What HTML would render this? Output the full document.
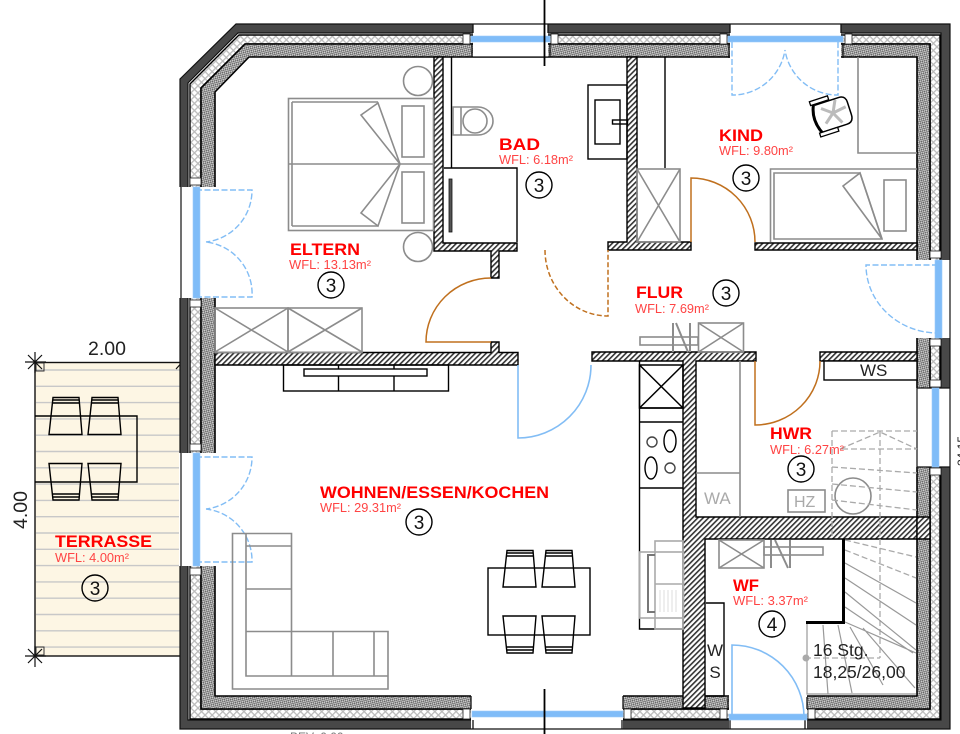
<!DOCTYPE html>
<html><head><meta charset="utf-8"><style>
html,body{margin:0;padding:0;background:#fff}
svg{display:block;filter:blur(0.35px)}
text{font-family:"Liberation Sans",sans-serif}
.r{fill:#f00;font-weight:bold;font-size:16.5px}
.w{fill:#f44;font-size:12.5px}
.n{fill:#111;font-size:19px;text-anchor:middle}
.g{fill:none;stroke:#8c8c8c;stroke-width:1.6}
.b{fill:none;stroke:#000;stroke-width:1.4}
.o{fill:none;stroke:#c0701e;stroke-width:1.5}
.bl{fill:none;stroke:#82bdf5;stroke-width:1.4}
.d{stroke-dasharray:6 2.5}
.sd{fill:none;stroke:#aaa;stroke-width:1.3;stroke-dasharray:6 3}
.st{fill:none;stroke:#999;stroke-width:1.2}
.h{fill:url(#hatch);stroke:#000;stroke-width:1.4}
.win{fill:#7fbcf8;stroke:#9ccbfa;stroke-width:.6}
.sq{fill:#fff;stroke:#222;stroke-width:.8}
</style></head><body>
<svg xmlns="http://www.w3.org/2000/svg" width="960" height="734" viewBox="0 0 960 734">
<defs>
<pattern id="hatch" width="3.8" height="3.8" patternUnits="userSpaceOnUse" patternTransform="rotate(45)"><rect width="3.8" height="3.8" fill="#fff"/><rect width="1.6" height="3.8" fill="#333"/></pattern>
<pattern id="ins" width="5" height="5" patternUnits="userSpaceOnUse" patternTransform="rotate(45)"><rect width="5" height="5" fill="#fff"/><rect width="1.3" height="5" fill="#bbb"/><rect width="5" height="1.3" fill="#bbb"/></pattern>
<pattern id="inner" width="2.8" height="2.8" patternUnits="userSpaceOnUse" patternTransform="rotate(30)"><rect width="2.8" height="2.8" fill="#d0d0d0"/><rect width="1.4" height="1.4" fill="#666"/><rect x="1.4" y="1.4" width="1.4" height="1.4" fill="#666"/></pattern>
</defs>
<rect width="960" height="734" fill="#fff"/>

<!-- terrace -->
<rect x="35" y="362" width="146" height="294" fill="#fdf6e4"/>
<g stroke="#c8c8c8" stroke-width="1.4">
<path d="M36 370H180M36 386.3H180M36 402.6H180M36 418.9H180M36 435.2H180M36 451.5H180M36 467.8H180M36 484.1H180M36 500.4H180M36 516.7H180M36 533H180M36 549.3H180M36 565.6H180M36 581.9H180M36 598.2H180M36 614.5H180M36 630.8H180M36 647.1H180"/>
</g>
<rect x="35" y="362.5" width="146" height="293.5" fill="none" stroke="#111" stroke-width="1.4"/>
<rect x="36" y="363" width="8" height="8" fill="none" stroke="#333" stroke-width="1"/>
<rect x="36" y="647" width="8" height="8" fill="none" stroke="#333" stroke-width="1"/>
<path d="M25 362H46M35 352V373M28 355L42 369M42 355L28 369M25 656H46M35 646V667M28 649L42 663M42 649L28 663M176 369L186 358" stroke="#111" stroke-width="1.2" fill="none"/>
<path class="b" d="M35 416H137V482H35"/>
<g class="b" fill="#fdf6e4">
<path d="M53 397.500H79L82 434.500H49ZM53 400H79M53 403H79M92 397.500H118L121 434.500H88ZM92 400H118M92 403H118"/>
<path d="M49 463.500H82L79 500H53ZM53 497H79M53 494H79M88 463.500H121L118 500H92ZM92 497H118M92 494H118"/>
</g>

<!-- outer wall bands -->
<path fill-rule="evenodd" d="M180 79L236 24H950V729H180ZM188 83L238 33H941V720H188Z" fill="#484848" stroke="#111" stroke-width="1.2"/>
<path fill-rule="evenodd" d="M190 84L239 35H940V719H190ZM201 88L245 44H930V709H201Z" fill="url(#ins)" stroke="#000" stroke-width="1.4"/>
<path fill-rule="evenodd" d="M201 88L245 44H930V709H201ZM215 92L249 57H917V696H215Z" fill="url(#inner)" stroke="#000" stroke-width="1.6"/>

<!-- openings -->
<g fill="#fff">
<rect x="473" y="23" width="75" height="34"/><rect x="730" y="23" width="111" height="35"/>
<rect x="471" y="695" width="152" height="35"/><rect x="729" y="695" width="78" height="35"/>
<rect x="179" y="187" width="37" height="111"/><rect x="179" y="453" width="37" height="113"/>
<rect x="916" y="260" width="35" height="78"/><rect x="916" y="388" width="35" height="79"/>
</g>
<path d="M473 24H548M473 57H550M472 44V57M550 44V57M473 24V33M548 24V33M730 24H841M730 24V33M841 24V33M729 44V58M843 44V58" stroke="#111" stroke-width="1.3" fill="none"/>
<path d="M471 729H623M473 720V729M622 720V729M471 696V709M623 696V709M729 729H807M730 720V729M805 720V729M728 697V709M807 697V709" stroke="#111" stroke-width="1.3" fill="none"/>
<path d="M181 187V298M181 453V566M950 260V338M917 388V467M950 388V467M917 388H950M917 467H950" stroke="#111" stroke-width="1.2" fill="none"/>
<!-- small squares -->
<g class="sq">
<rect x="463" y="34" width="7" height="10"/><rect x="551" y="34" width="7" height="10"/><rect x="720" y="34" width="7" height="10"/><rect x="845" y="34" width="7" height="10"/>
<rect x="463" y="709" width="7" height="10"/><rect x="624" y="709" width="7" height="10"/><rect x="720" y="709" width="7" height="10"/><rect x="808" y="709" width="7" height="10"/>
<rect x="190" y="178" width="11" height="7"/><rect x="190" y="300" width="11" height="7"/><rect x="190" y="444" width="11" height="7"/><rect x="190" y="568" width="11" height="7"/>
<rect x="930" y="251" width="11" height="7"/><rect x="930" y="339" width="11" height="7"/><rect x="930" y="380" width="11" height="7"/><rect x="930" y="468" width="11" height="7"/>
</g>
<!-- windows -->
<g class="win">
<rect x="471" y="36" width="79" height="6"/><rect x="728" y="36" width="115" height="6"/>
<rect x="472" y="711" width="151" height="6"/><rect x="729" y="714" width="78" height="6"/>
<rect x="193" y="187" width="7" height="111"/><rect x="193" y="453" width="7" height="113"/>
<rect x="935" y="260" width="7" height="78"/><rect x="932" y="388" width="7" height="79"/>
</g>

<!-- hatched walls -->
<path class="h" d="M434 57H443V243H517V251H499V278H491V251H434Z"/>
<path class="h" d="M627 57H637V242H691V250H608V242H627Z"/>
<path class="h" d="M755 243H917V250H755Z"/>
<path class="h" d="M215 352.500H491V342H499V352.500H518V365H215Z"/>
<path class="h" d="M592 352H756V361H696V517H917V539H705V708H683V361H592Z"/>
<path class="h" d="M820 352H917V361H820Z"/>
<path class="h" d="M917 517H930V539H917Z"/>

<!-- section cut -->
<path d="M544.500 0V66M544.500 689V734" stroke="#000" stroke-width="1.8"/>

<!-- doors -->
<path class="o" d="M491 278A65 64 0 0 0 426 342H491"/>
<path class="o" d="M545 250A63 66 0 0 0 608 316V250" stroke-dasharray="5 2.5"/>
<path class="o" d="M755 242A64 64 0 0 0 691 178V242"/>
<path class="o" d="M755 361V425A65 64 0 0 0 820 361"/>
<path class="bl" style="stroke-width:1.6" d="M518 365V438A73 73 0 0 0 591 365"/>
<path class="bl" style="stroke-width:1.6" d="M732 717V645A72 72 0 0 1 804 717"/>
<g class="bl d">
<path d="M196 190H252A52 52 0 0 1 206 242M196 297H252A52 52 0 0 0 206 242"/>
<path d="M196 457H252A52 52 0 0 1 206 509M196 562H252A52 52 0 0 0 206 509"/>
<path d="M732 42V95A53 53 0 0 0 785 50M838 42V95A53 53 0 0 1 785 50"/>
<path d="M938 265H866A72 68 0 0 0 938 333"/>
</g>

<!-- Eltern furniture -->
<g class="g">
<rect x="288.500" y="98.500" width="145" height="132"/>
<path d="M292 102H378M292 226H378M292 102V226M288 164H434"/>
<path d="M361 115L378 103L400 164ZM361 213L378 226L400 164Z"/>
<rect x="402" y="106" width="22" height="51"/><rect x="402" y="172" width="22" height="51"/>
<circle cx="418" cy="81" r="14.500"/><circle cx="418" cy="247" r="14.500"/>
<rect x="215" y="308" width="73" height="44.500"/><rect x="288" y="308" width="74" height="44.500"/>
<path d="M215 308L288 352M288 308L215 352M288 308L362 352M362 308L288 352"/>
</g>
<g class="b">
<rect x="283.500" y="365" width="165" height="26"/>
<path d="M338.500 365V391M394 365V391"/>
<rect x="304" y="369" width="123" height="7" fill="#fff"/>
</g>

<!-- Bad -->
<path class="b" d="M451.500 57V168M444 168H517V242M665 57V168"/>
<rect x="449" y="179" width="3" height="53" fill="#555" stroke="#111" stroke-width=".8"/>
<g class="g">
<path d="M453 107H478A15 14 0 0 1 478 135H453Z"/><path d="M461 107V135"/>
<ellipse cx="475" cy="121" rx="12" ry="12"/>
</g>
<g class="b"><rect x="588" y="85" width="39" height="74"/><rect x="595" y="100" width="25" height="44"/><rect x="612.500" y="120" width="15" height="4"/></g>
<g class="g"><rect x="637" y="169" width="43" height="73"/><path d="M637 169L680 242M680 169L637 242"/></g>

<!-- Kind -->
<g class="g">
<path d="M858 57V153H917"/>
<path d="M917 169H770.500V242"/>
<path d="M774 173H860L882 239H774Z"/>
<path d="M843 186L860 173L882 239Z"/>
<rect x="884" y="180" width="22" height="51"/>
</g>
<g transform="translate(833 113) rotate(-18)">
<g stroke="#bbb" stroke-width="3"><path d="M0 0L14 -2M0 0L6 12M0 0L6 -12M0 0L-10 8M0 0L-10 -8"/></g>
<path d="M-15 -13H10Q17 -13 17 -6V7Q17 15 10 15H-15" fill="none" stroke="#000" stroke-width="1.5"/>
<path d="M-16 -14Q-23 0 -16 16" fill="none" stroke="#000" stroke-width="3"/>
<path d="M-19 -18H0V-14H-19ZM-19 15H0V19H-19Z" fill="#fff" stroke="#000" stroke-width="1.3"/>
</g>

<!-- Flur wardrobe -->
<g class="g">
<rect x="698.500" y="323" width="45" height="29"/><path d="M698.500 323L743.500 352M743.500 323L698.500 352"/>
<rect x="640" y="337" width="58" height="8"/>
<path style="stroke-width:2" d="M673 323V352M676 323L688 352M690 323V352"/>
</g>

<!-- Kitchen -->
<g class="b">
<path d="M639.500 361V629H683M639.500 408H683M639.500 422H683M639.500 488H683"/>
<path d="M639.500 365H683V408H639.500ZM639.500 365L683 408M683 365L639.500 408" stroke-width="1.5"/>
<circle cx="652" cy="442" r="5" stroke="#444"/><ellipse cx="670" cy="441" rx="6" ry="11"/>
<ellipse cx="651" cy="468" rx="6" ry="11"/><circle cx="670" cy="468" r="5" stroke="#444"/>
</g>
<g fill="none" stroke="#aaa" stroke-width="1.6">
<rect x="655" y="541" width="28" height="88"/><rect x="639.500" y="552" width="44" height="66"/>
<path d="M655 584H683"/>
<path stroke="#777" stroke-width="2" d="M655 555H648V612H655"/>
<path stroke="#ddd" stroke-width="1" d="M660 590V612M664 590V612M668 590V612M672 590V612M676 590V612"/>
</g>

<!-- HWR -->
<g class="g"><path d="M696 473H740M740 361V517"/><rect x="788" y="490" width="37" height="22"/><circle cx="853" cy="496" r="18"/></g>
<rect x="824" y="361" width="93" height="19" fill="#fff" stroke="#000" stroke-width="1.4"/>
<text x="860" y="376" font-size="17" fill="#222">WS</text>
<text x="704" y="504" font-size="17" fill="#aaa">WA</text>
<text x="794" y="507" font-size="16" fill="#aaa">HZ</text>

<!-- stairs -->
<g class="sd">
<path d="M832 431H917M832 431V539M880 431V658M805 658H880M842 449H917M840 449L880 432L917 449M832 467L917 473M832 484L917 492M832 500L917 510M845 540L916 557M845 550L916 578"/>
</g>
<path class="st" d="M845 563L916 603M845 578L916 625M845 592L916 650M845 607L913 653M845 622L916 653M807 622V694H916M823 625L828 694M838 625L852 693M850 627L883 685M863 628L915 688"/>
<circle cx="806" cy="658" r="3.500" fill="#aaa"/>

<!-- WF -->
<path d="M843.500 539V622.500H806" fill="none" stroke="#000" stroke-width="3"/>
<g class="g">
<rect x="719" y="540" width="45" height="28"/><path d="M719 540L764 568M764 540L719 568"/>
<rect x="764" y="547" width="59" height="8"/>
<path style="stroke-width:2" d="M771 540V568M775 540L788 568M790 540V568"/>
</g>
<path class="b" d="M706 603H724V696"/>
<path class="b" d="M706 696H724"/>
<text x="715" y="656" font-size="17" fill="#222" text-anchor="middle">W</text>
<text x="715" y="678" font-size="17" fill="#222" text-anchor="middle">S</text>
<text x="813" y="656" font-size="17.500" fill="#222">16 Stg.</text>
<text x="813" y="678" font-size="17.500" fill="#222">18,25/26,00</text>

<!-- dining -->
<rect x="488" y="568" width="102" height="67" class="b"/>
<g class="b" fill="#fff">
<path d="M507 550.500H533L536 587H503ZM507 553H533M507 556H533M546 550.500H572L575 587H542ZM546 553H572M546 556H572"/>
<path d="M503 616H536L533 653H507ZM507 650H533M507 647H533M542 616H575L572 653H546ZM546 650H572M546 647H572"/>
</g>

<!-- sofa -->
<g class="g">
<path d="M232.500 533.500H291.500V631.500H388V689H232.500Z"/>
<path d="M246 533.500V676H388M246 546H291.500M246 589H291.500M246 631.500H291.500M291.500 631.500V676M333 631.500V676M374 631.500V676"/>
</g>

<!-- dimension labels -->
<text x="88" y="355" font-size="19.500" fill="#222">2.00</text>
<text transform="translate(27 529) rotate(-90)" font-size="19.500" fill="#222">4.00</text>
<text x="290" y="741" font-size="12" fill="#777">BEV: 0.00</text>
<text transform="translate(966 466) rotate(-90)" font-size="12" fill="#222">24.15</text>

<!-- room labels -->
<g lengthAdjust="spacingAndGlyphs">
<text x="290" y="255" class="r" textLength="70" lengthAdjust="spacingAndGlyphs">ELTERN</text><text x="289" y="269" class="w" textLength="82" lengthAdjust="spacingAndGlyphs">WFL: 13.13m²</text>
<text x="499" y="150" class="r" textLength="41" lengthAdjust="spacingAndGlyphs">BAD</text><text x="499" y="164" class="w" textLength="74" lengthAdjust="spacingAndGlyphs">WFL: 6.18m²</text>
<text x="719" y="141" class="r" textLength="44" lengthAdjust="spacingAndGlyphs">KIND</text><text x="719" y="155" class="w" textLength="74" lengthAdjust="spacingAndGlyphs">WFL: 9.80m²</text>
<text x="636" y="298" class="r" textLength="47" lengthAdjust="spacingAndGlyphs">FLUR</text><text x="635" y="313" class="w" textLength="74" lengthAdjust="spacingAndGlyphs">WFL: 7.69m²</text>
<text x="770" y="439" class="r" textLength="42" lengthAdjust="spacingAndGlyphs">HWR</text><text x="770" y="454" class="w" textLength="74" lengthAdjust="spacingAndGlyphs">WFL: 6.27m²</text>
<text x="320" y="498" class="r" textLength="229" lengthAdjust="spacingAndGlyphs">WOHNEN/ESSEN/KOCHEN</text><text x="320" y="512" class="w" textLength="81" lengthAdjust="spacingAndGlyphs">WFL: 29.31m²</text>
<text x="55" y="547" class="r" textLength="97" lengthAdjust="spacingAndGlyphs">TERRASSE</text><text x="55" y="562" class="w" textLength="74" lengthAdjust="spacingAndGlyphs">WFL: 4.00m²</text>
<text x="733" y="591" class="r" textLength="26" lengthAdjust="spacingAndGlyphs">WF</text><text x="733" y="605" class="w" textLength="75" lengthAdjust="spacingAndGlyphs">WFL: 3.37m²</text>
</g>

<g fill="none" stroke="#000" stroke-width="1.4">
<circle cx="331" cy="285" r="13"/><circle cx="539" cy="185" r="13"/><circle cx="746" cy="178" r="13"/><circle cx="726" cy="293" r="13"/><circle cx="801" cy="469" r="13"/><circle cx="419" cy="522" r="13"/><circle cx="95" cy="588" r="13"/><circle cx="772" cy="624" r="13"/>
</g>
<text x="331" y="292" class="n">3</text><text x="539" y="192" class="n">3</text><text x="746" y="185" class="n">3</text><text x="726" y="300" class="n">3</text><text x="801" y="476" class="n">3</text><text x="419" y="529" class="n">3</text><text x="95" y="595" class="n">3</text><text x="772" y="631" class="n">4</text>
</svg>
</body></html>
